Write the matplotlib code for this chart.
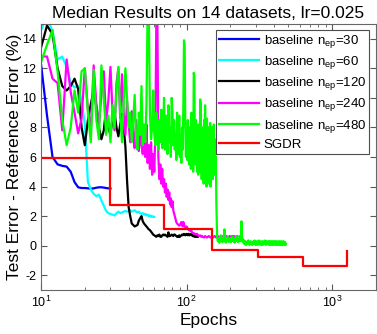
import numpy as np
import matplotlib
matplotlib.use('Agg')
import matplotlib.pyplot as plt

plt.rcParams.update({
    'font.family': ['Liberation Sans', 'DejaVu Sans'],
    'mathtext.default': 'regular',
    'axes.unicode_minus': False,
})

# baseline n_ep=30, epochs 10..30
blue_vals = [12.3, 8.8, 6.0, 5.5, 5.4, 5.35, 5.0, 4.3, 3.95, 3.9,
             3.9, 3.88, 3.85, 3.88, 3.92, 3.95, 3.95, 3.93, 3.9, 3.88,
             3.87]

# baseline n_ep=60, epochs 10..60
cyan_vals = [14.6, 15.5, 14.5, 12.6, 12.8, 12.1, 11.0, 10.7, 10.8, 9.8,
             8.2, 4.3, 3.8, 3.5, 3.35, 3.45, 3.05, 2.7, 2.35, 2.2,
             2.15, 2.1, 2.05, 2.2, 2.3, 2.2, 2.25, 2.3, 2.35, 2.3,
             2.35, 2.4, 2.3, 2.35, 2.4, 2.3, 2.25, 2.3, 2.2, 2.15,
             2.2, 2.1, 2.15, 2.05, 2.1, 2.0, 2.05, 1.95, 2.0, 1.95,
             1.95]

# baseline n_ep=120, epochs 10..120
black_vals = [13.4, 14.9, 14.3, 12.0, 10.8, 10.5, 10.8, 11.3, 10.6, 8.0,
              6.8, 8.5, 9.6, 10.5, 9.4, 8.0, 7.2, 7.8, 9.3, 8.0,
              7.5, 8.6, 9.0, 8.0, 7.4, 8.2, 8.9, 8.0, 6.7, 4.4,
              2.6, 2.0, 1.5, 1.4, 1.3, 1.35, 1.4, 1.7, 1.85, 2.0,
              1.65, 1.5, 1.4, 1.3, 1.2, 1.1, 1.05, 0.95, 0.85, 0.75,
              0.7, 0.65, 0.6, 0.7, 0.65, 0.75, 0.6, 0.6, 0.7, 0.75,
              0.7, 0.75, 0.7, 0.65, 0.6, 0.9, 0.65, 0.65, 0.7, 0.75,
              0.7, 0.65, 0.75, 0.75, 0.7, 0.65, 0.6, 0.65, 0.6, 0.7,
              0.6, 0.65, 0.7, 0.75, 0.7, 0.75, 0.8, 0.75, 0.7, 0.75,
              0.8, 0.75, 0.7, 0.8, 0.75, 0.7, 0.75, 0.8, 0.75, 0.7,
              0.65, 0.7, 0.65, 0.6, 0.65, 0.7, 0.6, 0.65, 0.6, 0.65,
              0.62]

# baseline n_ep=240, epochs 10..110 every epoch, then 112..240 every 2nd
magenta_vals = [12.8, 12.8, 11.3, 11.0, 7.8, 12.6, 10.4, 9.0, 7.6, 8.6,
                12.0, 9.2, 7.9, 12.2, 9.6, 8.2, 10.2, 11.8, 8.4, 9.8,
                12.1, 9.0, 7.8, 11.0, 12.0, 8.6, 11.6, 9.0, 7.5, 9.8,
                8.2, 7.0, 9.1, 7.6, 6.6, 8.5, 7.2, 6.4, 8.0, 6.8,
                6.2, 7.8, 6.0, 8.2, 5.6, 6.8, 5.2, 7.0, 4.8, 6.2,
                5.0, 7.5, 15.5, 15.5, 6.0, 4.5, 5.5, 4.2, 5.2, 4.0,
                4.5, 3.6, 4.2, 3.3, 3.8, 3.1, 3.6, 2.8, 3.2, 2.6,
                3.0, 2.4, 2.2, 2.0, 1.8, 1.6, 1.5, 1.45, 1.4, 1.35,
                1.4, 1.5, 1.6, 1.4, 1.3, 1.6, 1.45, 1.3, 1.25, 1.2,
                1.3, 1.2, 1.15, 1.1, 1.05, 1.1, 1.0, 1.05, 1.0, 0.9,
                0.85]
magenta_tail = [0.85, 0.8, 0.75, 0.8, 0.7, 0.65, 0.7, 0.6, 0.65, 0.6,
                0.55, 0.65, 0.6, 0.55, 0.6, 0.65, 0.6, 0.55, 0.6, 0.65,
                0.55, 0.6, 0.65, 0.6, 0.55, 0.6, 0.65, 0.6, 0.55, 0.6,
                0.6, 0.65, 0.55, 0.6, 0.65, 0.6, 0.55, 0.6, 0.65, 0.6,
                0.55, 0.6, 0.6, 0.65, 0.55, 0.6, 0.6, 0.65, 0.55, 0.6,
                0.65, 0.6, 0.55, 0.6, 0.6, 0.65, 0.55, 0.6, 0.6, 0.55,
                0.6, 0.65, 0.6, 0.55, 0.6]

# baseline n_ep=480, epochs 10..160 every epoch, then 162..480 every 2nd
green_vals = [12.4, 13.6, 14.6, 11.8, 8.5, 6.8, 8.0, 10.5, 9.0, 11.8,
              12.0, 9.0, 7.0, 11.9, 8.5, 7.2, 12.2, 10.0, 7.5, 8.8,
              7.0, 9.5, 8.0, 10.5, 12.1, 9.0, 7.0, 9.8, 12.0, 10.0,
              8.0, 9.0, 7.0, 8.5, 10.2, 7.2, 6.5, 9.0, 7.5, 10.8,
              6.8, 8.2, 7.0, 9.5, 16.0, 16.0, 9.0, 7.2, 8.0, 10.5,
              7.5, 6.8, 9.0, 7.5, 6.5, 8.5, 7.0, 9.2, 6.6, 7.8,
              10.0, 6.5, 8.8, 7.2, 6.2, 9.5, 7.0, 8.0, 6.0, 10.0,
              9.0, 6.8, 8.5, 6.5, 7.5, 5.8, 9.0, 7.0, 6.2, 8.8,
              6.0, 7.5, 5.6, 8.0, 6.5, 9.5, 13.9, 13.5, 8.0, 6.0,
              7.5, 5.8, 8.5, 6.5, 5.5, 8.0, 7.0, 5.2, 9.0, 6.0,
              7.8, 5.0, 11.7, 11.5, 7.0, 5.5, 8.5, 6.2, 5.0, 7.5,
              4.8, 8.2, 6.0, 5.0, 9.9, 9.6, 6.5, 4.5, 8.0, 5.5,
              7.0, 4.2, 8.5, 6.0, 9.5, 5.0, 7.5, 4.0, 8.6, 6.0,
              5.0, 8.0, 4.2, 7.0, 5.5, 8.3, 4.0, 6.5, 7.8, 5.2,
              8.0, 4.5, 7.0, 6.0, 8.2, 4.8, 6.5, 7.2, 5.0, 6.0,
              3.1]
green_tail = [0.6, 0.3, 0.5, 0.2, 0.45, 0.7, 0.35, 0.25, 0.55, 0.3,
              1.1, 0.4, 0.2, 0.5, 0.35, 0.6, 0.25, 0.45, 0.3, 0.5,
              0.25, 0.55, 0.35, 0.6, 0.3, 0.45, 0.2, 0.5, 0.4, 0.65,
              0.3, 0.5, 0.25, 0.45, 0.6, 0.35, 0.5, 0.3, 1.65, 0.5,
              0.3, 0.45, 0.2, 0.35, 0.1, 0.3, 0.15, 0.05, 0.25, 0.1,
              0.3, 0.15, 0.35, 0.2, 0.05, 0.25, 0.15, 0.3, 0.1, 0.2,
              0.05, 0.25, 0.15, 0.3, 0.1, 0.2, 0.35, 0.15, 0.05, 0.25,
              0.1, 0.3, 0.2, 0.05, 0.25, 0.15, 0.35, 0.1, 0.2, 0.3,
              0.15, 0.05, 0.25, 0.1, 0.3, 0.2, 0.05, 0.25, 0.15, 0.3,
              0.1, 0.2, 0.35, 0.1, 0.25, 0.05, 0.2, 0.3, 0.15, 0.1,
              0.25, 0.15, 0.3, 0.05, 0.2, 0.1, 0.3, 0.15, 0.25, 0.05,
              0.2, 0.3, 0.1, 0.25, 0.15, 0.05, 0.3, 0.2, 0.1, 0.25,
              0.15, 0.3, 0.05, 0.2, 0.1, 0.25, 0.3, 0.15, 0.05, 0.2,
              0.25, 0.1, 0.3, 0.15, 0.2, 0.05, 0.25, 0.1, 0.3, 0.15,
              0.2, 0.05, 0.25, 0.15, 0.3, 0.1, 0.2, 0.05, 0.25, 0.15,
              0.1, 0.3, 0.05, 0.2, 0.15, 0.25, 0.1, 0.2, 0.05, 0.1]

# SGDR restarts (staircase)
sgdr_epochs = [10, 30, 30, 70, 70, 150, 150, 310, 310, 630, 630, 1270, 1270]
sgdr_vals = [5.9, 5.9, 2.75, 2.75, 1.1, 1.1, -0.3, -0.3, -0.75, -0.75,
             -1.35, -1.35, -0.35]

labels = ['baseline n$_{ep}$=30', 'baseline n$_{ep}$=60',
          'baseline n$_{ep}$=120', 'baseline n$_{ep}$=240',
          'baseline n$_{ep}$=480', 'SGDR']
colors = ['#0000ff', '#00ffff', '#000000', '#ff00ff', '#00ff00', '#ff0000']

blue_ep = np.arange(10, 10 + len(blue_vals))
cyan_ep = np.arange(10, 10 + len(cyan_vals))
black_ep = np.arange(10, 10 + len(black_vals))
magenta_ep = np.concatenate([np.arange(10, 10 + len(magenta_vals)),
                             np.arange(112, 112 + 2 * len(magenta_tail), 2)])
green_ep = np.concatenate([np.arange(10, 10 + len(green_vals)),
                           np.arange(162, 162 + 2 * len(green_tail), 2)])

series = [(blue_ep, blue_vals), (cyan_ep, cyan_vals), (black_ep, black_vals),
          (magenta_ep, magenta_vals + magenta_tail),
          (green_ep, green_vals + green_tail),
          (sgdr_epochs, sgdr_vals)]

fig = plt.figure(figsize=(3.77, 3.34), dpi=100)
ax = fig.add_axes([41 / 377, 1 - 290 / 334, 335 / 377, 266 / 334])

for (x, y), c, lab in zip(series, colors, labels):
    ax.plot(x, y, color=c, lw=1.6, label=lab)

ax.set_xscale('log')
ax.set_xlim(10, 2000)
ax.set_ylim(-3, 15)
ax.set_yticks(np.arange(-2, 15, 2))
ax.tick_params(which='both', direction='in', top=True, right=True,
               labelsize=9, color='0.35')
ax.tick_params(which='major', length=4)
ax.tick_params(which='minor', length=2)
for s in ax.spines.values():
    s.set_color('0.4')
    s.set_linewidth(0.8)

ax.set_title('Median Results on 14 datasets, lr=0.025', fontsize=12.5, pad=4)
ax.set_xlabel('Epochs', fontsize=12.5, labelpad=2)
ax.set_ylabel('Test Error - Reference Error (%)', fontsize=12.5, labelpad=0)

leg = ax.legend(loc='upper right', bbox_to_anchor=(369 / 377, 1 - 30 / 334),
                bbox_transform=fig.transFigure, fontsize=9.5, fancybox=False,
                framealpha=1, edgecolor='0.3', handlelength=3.0,
                handletextpad=0.4, labelspacing=0.32, borderpad=0.2,
                borderaxespad=0)
leg.get_frame().set_linewidth(0.8)

fig.savefig('out.png', dpi=100)
